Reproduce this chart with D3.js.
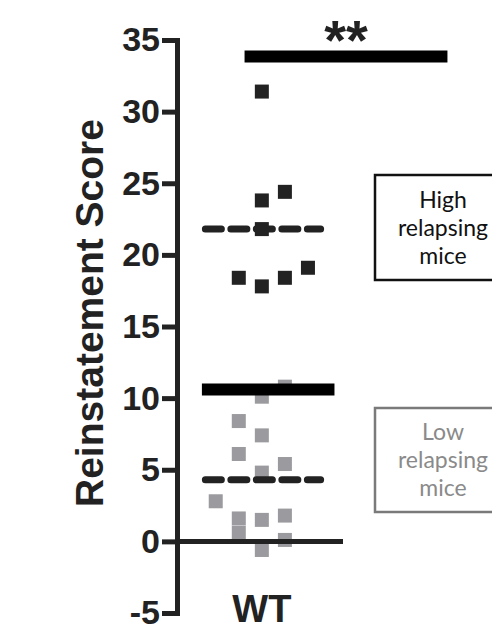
<!DOCTYPE html>
<html>
<head>
<meta charset="utf-8">
<script src="https://cdn.jsdelivr.net/npm/d3@7"></script>
<style>
  html, body { margin: 0; padding: 0; background: #fff; }
  svg { display: block; }
</style>
</head>
<body>
<svg id="chart" width="492" height="640"></svg>
<script>
// ---- data ----
const category = "WT";
const yTicks = [-5, 0, 5, 10, 15, 20, 25, 30, 35];
const highScores  = [31.4, 23.8, 24.4, 21.8, 18.4, 17.8, 18.4, 19.1];
const highColumns = [0, 0, 1, 0, -1, 0, 1, 2];
const lowScores   = [10.8, 10.1, 8.4, 7.4, 6.1, 5.4, 4.8, 2.8, 1.6, 0.6, 1.5, 1.8, 0.1, -0.6];
const lowColumns  = [1, 0, -1, 0, -1, 1, 0, -2, -1, -1, 0, 1, 1, 0];
const highMean = 21.8;
const lowMean = 4.3;
const threshold = 10.6;
const significance = { y: 33.85, label: "**" };
const legendLabels = [["High", "relapsing", "mice"], ["Low", "relapsing", "mice"]];

// ---- layout ----
const svg = d3.select("#chart");
const y = d3.scaleLinear().domain([-5, 35]).range([613, 40]);
const x = d3.scaleLinear().domain([-3.68, 3.52]).range([177, 343]); // jitter columns around group centre
const BLACK = "#222";
const GREY = "#9b9b9f";
const SQ = 14;

// grey (low) points
svg.append("g").selectAll("rect")
  .data(lowScores.map((v, i) => ({ v, c: lowColumns[i] })))
  .join("rect")
  .attr("x", d => x(d.c) - SQ / 2)
  .attr("y", d => y(d.v) - SQ / 2)
  .attr("width", SQ).attr("height", SQ)
  .attr("fill", GREY);

// black (high) points
svg.append("g").selectAll("rect")
  .data(highScores.map((v, i) => ({ v, c: highColumns[i] })))
  .join("rect")
  .attr("x", d => x(d.c) - SQ / 2)
  .attr("y", d => y(d.v) - SQ / 2)
  .attr("width", SQ).attr("height", SQ)
  .attr("fill", BLACK);

// mean dashed lines
[highMean, lowMean].forEach(m => {
  svg.append("line")
    .attr("x1", x(-2.45)).attr("x2", x(2.55))
    .attr("y1", y(m)).attr("y2", y(m))
    .attr("stroke", BLACK).attr("stroke-width", 7)
    .attr("stroke-linecap", "round")
    .attr("stroke-dasharray", "16 9.5");
});

// threshold bar
svg.append("line")
  .attr("x1", x(-2.6)).attr("x2", x(3.15))
  .attr("y1", y(threshold)).attr("y2", y(threshold))
  .attr("stroke", "#000").attr("stroke-width", 12);

// zero line
svg.append("line")
  .attr("x1", x(-3.68)).attr("x2", x(3.52))
  .attr("y1", y(0)).attr("y2", y(0))
  .attr("stroke", BLACK).attr("stroke-width", 5);

// significance bar
svg.append("line")
  .attr("x1", x(-0.75)).attr("x2", x(8.05))
  .attr("y1", y(significance.y)).attr("y2", y(significance.y))
  .attr("stroke", "#000").attr("stroke-width", 12);
svg.append("text")
  .attr("x", x(3.65)).attr("y", y(significance.y) + 3)
  .attr("text-anchor", "middle")
  .attr("font-family", "Liberation Sans, Arial, sans-serif")
  .attr("font-weight", "bold").attr("font-size", 56)
  .attr("fill", BLACK)
  .text(significance.label);

// y axis
const yAxis = d3.axisLeft(y).tickValues(yTicks).tickFormat(d => String(d))
  .tickSize(15).tickSizeOuter(0).tickPadding(2);
const gy = svg.append("g").attr("transform", `translate(${x(-3.68)},0)`).call(yAxis);
gy.select(".domain").attr("stroke", BLACK).attr("stroke-width", 5).attr("stroke-linecap", "square");
gy.selectAll(".tick line").attr("stroke", BLACK).attr("stroke-width", 5);
gy.selectAll(".tick text")
  .attr("font-family", "Liberation Sans, Arial, sans-serif")
  .attr("font-weight", "bold").attr("font-size", 34)
  .attr("fill", BLACK);

// y axis title
svg.append("text")
  .attr("transform", "translate(103,313) rotate(-90)")
  .attr("text-anchor", "middle")
  .attr("font-family", "Liberation Sans, Arial, sans-serif")
  .attr("font-weight", "bold").attr("font-size", 39)
  .attr("fill", BLACK)
  .text("Reinstatement Score");

// category label
svg.append("text")
  .attr("x", x(0)).attr("y", 622)
  .attr("text-anchor", "middle")
  .attr("font-family", "Liberation Sans, Arial, sans-serif")
  .attr("font-weight", "bold").attr("font-size", 38)
  .attr("fill", BLACK)
  .text(category);

// legend boxes
const boxes = [
  { top: 175, bottom: 280, stroke: "#111", text: "#111", sw: 2.5 },
  { top: 408, bottom: 512, stroke: "#7a7a7a", text: "#8a8a8a", sw: 2.5 }
];
boxes.forEach((b, i) => {
  svg.append("rect")
    .attr("x", 375).attr("y", b.top)
    .attr("width", 140).attr("height", b.bottom - b.top)
    .attr("fill", "#fff").attr("stroke", b.stroke).attr("stroke-width", b.sw);
  const cy = (b.top + b.bottom) / 2;
  legendLabels[i].forEach((t, j) => {
    svg.append("text")
      .attr("x", 443).attr("y", cy + (j - 1) * 28)
      .attr("dy", "0.35em")
      .attr("text-anchor", "middle")
      .attr("font-family", "Lato, 'Open Sans', sans-serif")
      .attr("font-size", 23)
      .attr("fill", b.text)
      .text(t);
  });
});
</script>
</body>
</html>
